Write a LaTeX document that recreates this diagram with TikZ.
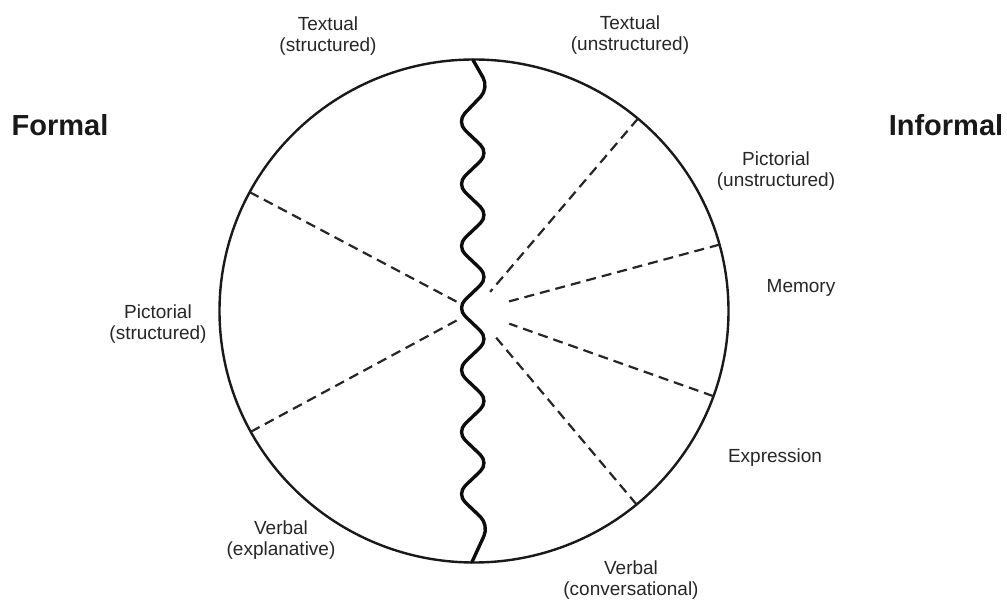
\documentclass[tikz,border=0pt]{standalone}
\usepackage{fontspec}
\setmainfont{Liberation Sans}
\usetikzlibrary{calc}
\begin{document}
\begin{tikzpicture}[x=1pt,y=1pt,
  lbl/.style={text=black!85, align=center, inner sep=0pt,
    font=\fontsize{19}{21}\selectfont},
  side/.style={text=black!90, inner sep=0pt,
    font=\fontsize{29}{32}\selectfont\bfseries},
  rim/.style={line width=2.4pt, black!90},
  divider/.style={line width=2.2pt, black!85, dash pattern=on 10pt off 6pt},
  wave/.style={line width=3.4pt, black!95, line join=round, line cap=round,
    rounded corners=12pt}]
\useasboundingbox (0,0) rectangle (1007,600);

% outer circle
\coordinate (c) at (474,289);
\draw[rim] (c) ellipse [x radius=254.5, y radius=251.5];

% dashed dividers, each running from the rim towards the middle
\foreach \name/\ang/\rin in {lu/151.8/17, ll/208.7/16, ur/49.9/25,
                              ru/15.3/34.4, rl/-19.8/37.5, lr/-50.3/32.3} {
  \coordinate (\name-out) at ($(c)+(\ang:254.5 and 251.5)$);
  \coordinate (\name-in)  at ($(c)+(\ang:\rin)$);
  \draw[divider] (\name-out) -- (\name-in);
}

% wavy boundary between the formal and the informal half:
% a zigzag with rounded turns, 62pt per period
\coordinate (wtop) at (473,540);
\coordinate (wbot) at (472,38);
\draw[wave] (wtop) -- (489,512)
  \foreach \k in {0,...,6} { -- (456.5,{478-62*\k}) -- (489,{447-62*\k}) }
  -- (wbot);

% side headings
\node[side] (formal)   at (60,475)  {Formal};
\node[side] (informal) at (946,475) {Informal};

% sector labels
\node[lbl] (ts) at (328,564) {Textual\\(structured)};
\node[lbl] (tu) at (630,565) {Textual\\(unstructured)};
\node[lbl] (pu) at (776,429) {Pictorial\\(unstructured)};
\node[lbl] (me) at (801,312) {Memory};
\node[lbl] (ex) at (775,142) {Expression};
\node[lbl] (vc) at (631,20)  {Verbal\\(conversational)};
\node[lbl] (ve) at (281,60)  {Verbal\\(explanative)};
\node[lbl] (ps) at (158,276) {Pictorial\\(structured)};
\end{tikzpicture}
\end{document}
